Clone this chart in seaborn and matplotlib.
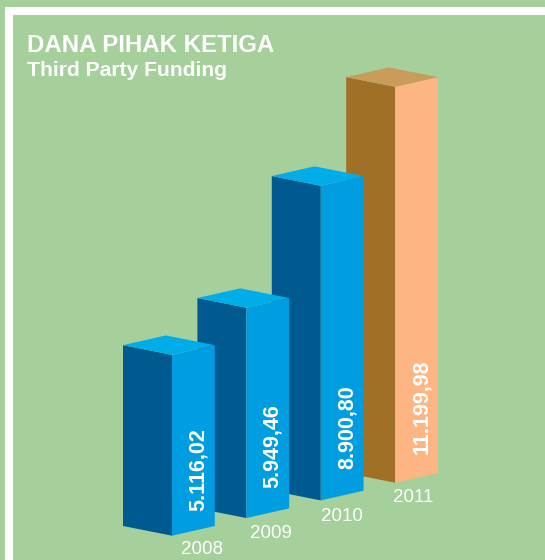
import matplotlib
matplotlib.use("Agg")
import matplotlib.pyplot as plt
from matplotlib.patches import Rectangle
from matplotlib.transforms import Affine2D
import pandas as pd
import seaborn as sns

# --- data ---
years = ["2008", "2009", "2010", "2011"]
values = [5116.02, 5949.46, 8900.80, 11199.98]
value_labels = ["5.116,02", "5.949,46", "8.900,80", "11.199,98"]
title = "DANA PIHAK KETIGA"
subtitle = "Third Party Funding"

# --- colours ---
BG = "#A5CF9B"
side_colors = ["#005A8F", "#005A8F", "#005A8F", "#A07027"]
front_colors = ["#009EE0", "#009EE0", "#009EE0", "#FDB583"]
top_colors = ["#00ADE8", "#00ADE8", "#00ADE8", "#C99C5A"]

# --- projection (pixels) ---
W, H = 545, 560
PX_PER_CAT = 74.4
PX_PER_VAL = 0.03535
X0, Y0 = 172.0, 535.7      # nearest bottom corner of the first bar
STEP_UP = 17.65            # rise of the base per category
LEFT_W, RIGHT_W = 49.0, 42.8
SLOPE = 9.7

sns.set_theme(style="white", rc={"font.family": ["Liberation Sans", "DejaVu Sans"]})
fig = plt.figure(figsize=(W / 100, H / 100), dpi=100, facecolor=BG)
ax = fig.add_axes([0, 0, 1, 1], facecolor=BG)

df = pd.DataFrame({"year": years, "value": values})
sns.barplot(data=df, x="year", y="value", hue="year", palette=side_colors,
            width=1.0, legend=False, saturation=1, ax=ax, linewidth=0)
n_side = len(ax.patches)
sns.barplot(data=df, x="year", y="value", hue="year", palette=front_colors,
            width=1.0, legend=False, saturation=1, ax=ax, linewidth=0)

ax.set_xlim(-X0 / PX_PER_CAT, (W - X0) / PX_PER_CAT)
ax.set_ylim(-(H - Y0) / PX_PER_VAL, Y0 / PX_PER_VAL)
ax.set_axis_off()

lw = LEFT_W / PX_PER_CAT
rw = RIGHT_W / PX_PER_CAT
slope = SLOPE / PX_PER_VAL
step = STEP_UP / PX_PER_VAL

def face(i, side):
    """Shear the unit-wide bar of category i into one face of the box."""
    x0 = i - 0.5
    if side == "left":
        a, c, e0, f0 = lw, -slope, i - lw, step * i + slope
    else:
        a, c, e0, f0 = rw, slope, float(i), step * i
    return Affine2D.from_values(a, c, 0, 1, e0 - a * x0, f0 - c * x0)

bars = list(ax.patches)
for patch in bars[:n_side]:
    i = round(patch.get_x() + patch.get_width() / 2)
    patch.set_transform(face(i, "left") + ax.transData)
    patch.set_zorder(10 - i)
    patch.set_clip_on(False)
for patch in bars[n_side:]:
    i = round(patch.get_x() + patch.get_width() / 2)
    patch.set_transform(face(i, "right") + ax.transData)
    patch.set_zorder(10 - i)
    patch.set_clip_on(False)

# text placement in pixel coordinates
pixel = Affine2D().scale(1 / W, -1 / H).translate(0, 1) + ax.transAxes
label_x = [198, 272, 347.5, 421.7]
label_y = [511, 488, 469, 454]

for i, v in enumerate(values):
    base = step * i + v
    ax.fill([i, i - lw, i - lw + rw, i + rw],
            [base, base + slope, base + 2 * slope, base + slope],
            color=top_colors[i], lw=0, zorder=10 - i)
    ax.text(label_x[i], label_y[i], value_labels[i], transform=pixel,
            rotation=90, ha="center", va="bottom", color="white",
            fontsize=15.5, fontweight="bold", zorder=10.5 - i)

caption_x = [202, 271, 341.7, 412.7]
caption_y = [549, 534, 516.5, 498]
for y, cx, cy in zip(years, caption_x, caption_y):
    ax.text(cx, cy, y, transform=pixel, ha="center", va="center",
            color="white", fontsize=13.5, zorder=20)

ax.text(27, 52, title, transform=pixel, color="white", fontsize=17.3,
        fontweight="bold", va="baseline", zorder=20)
ax.text(27, 76, subtitle, transform=pixel, color="white", fontsize=15.2,
        fontweight="bold", va="baseline", zorder=20)

# white frame along the top and left
for xy, w, h in [((5, 7), W - 5, 8), ((5, 7), 8, H - 7)]:
    ax.add_patch(Rectangle(xy, w, h, transform=pixel, color="white", lw=0,
                           zorder=1, clip_on=False))

fig.savefig("out.png", dpi=100, facecolor=BG)
